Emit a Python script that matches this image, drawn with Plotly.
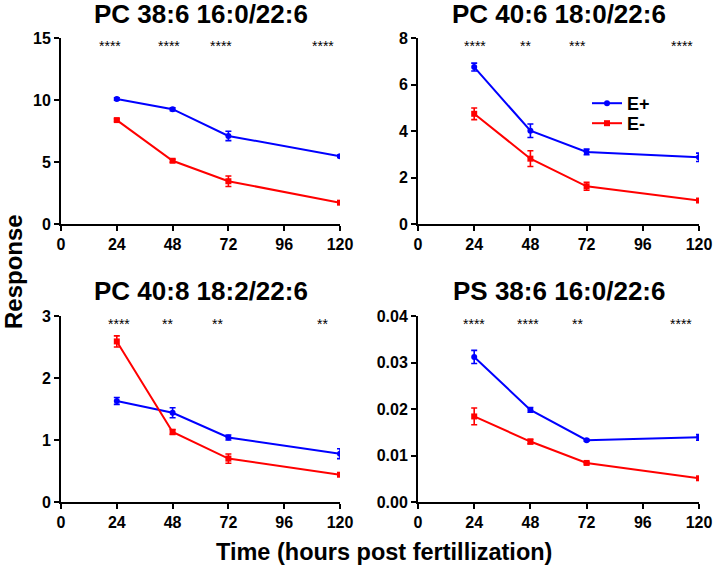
import plotly.graph_objects as go

hours = [24, 48, 72, 120]
titles = ["PC 38:6 16:0/22:6", "PC 40:6 18:0/22:6", "PC 40:8 18:2/22:6", "PS 38:6 16:0/22:6"]

ep_vals = [
    [10.08, 9.26, 7.1, 5.47],
    [6.75, 4.01, 3.10, 2.87],
    [1.63, 1.44, 1.04, 0.78],
    [0.0312, 0.0198, 0.0133, 0.0139],
]
ep_err = [
    [0.1, 0.12, 0.38, 0.1],
    [0.17, 0.29, 0.12, 0.18],
    [0.055, 0.08, 0.04, 0.08],
    [0.0014, 0.0005, 0.0002, 0.0006],
]
em_vals = [
    [8.38, 5.1, 3.45, 1.72],
    [4.74, 2.81, 1.62, 1.01],
    [2.59, 1.13, 0.70, 0.44],
    [0.0184, 0.0130, 0.0084, 0.0051],
]
em_err = [
    [0.1, 0.12, 0.42, 0.08],
    [0.25, 0.34, 0.17, 0.04],
    [0.09, 0.04, 0.075, 0.02],
    [0.0018, 0.0005, 0.0002, 0.0002],
]
y_max = [15, 8, 3, 0.04]
y_dtick = [5, 2, 1, 0.01]
y_fmt = ["", "", "", ".2f"]
stars = [
    ["****", "****", "****", "****"],
    ["****", "**", "***", "****"],
    ["****", "**", "**", "**"],
    ["****", "****", "**", "****"],
]
star_x = [
    [21, 46.5, 69, 112.7],
    [24.3, 45.7, 67.9, 112.7],
    [24.8, 45.6, 67.5, 112.3],
    [23.9, 47, 67.9, 112.3],
]
x_ticks = [0, 24, 48, 72, 96, 120]

FONT = "Liberation Sans, Arial, sans-serif"
BLUE = "#0000ff"
RED = "#ff0000"

W, H = 714, 572


def px(x):
    return x / W


def py(y):
    return 1 - y / H


x_px = [[61, 340], [418, 699], [61, 340], [418, 699]]
y_px = [[38, 224], [38, 224], [316, 502], [316, 502]]
title_y_px = [14, 14, 291, 291]

fig = go.Figure()
layout = {}
annotations = []
for i in range(4):
    ax = "" if i == 0 else str(i + 1)
    xa, ya = "x" + ax, "y" + ax
    fig.add_trace(go.Scatter(
        x=hours, y=ep_vals[i], xaxis=xa, yaxis=ya, mode="lines+markers",
        name="E+", showlegend=(i == 1), legend="legend",
        line=dict(color=BLUE, width=2), marker=dict(symbol="circle", size=6, color=BLUE),
        error_y=dict(type="data", array=ep_err[i], color=BLUE, thickness=1.6, width=3),
    ))
    fig.add_trace(go.Scatter(
        x=hours, y=em_vals[i], xaxis=xa, yaxis=ya, mode="lines+markers",
        name="E-", showlegend=(i == 1), legend="legend2",
        line=dict(color=RED, width=2), marker=dict(symbol="square", size=6, color=RED),
        error_y=dict(type="data", array=em_err[i], color=RED, thickness=1.6, width=3),
    ))
    common = dict(showline=True, linecolor="black", linewidth=2, ticks="outside",
                  ticklen=5, tickwidth=2, tickcolor="black", showgrid=False, zeroline=False,
                  automargin=False,
                  tickfont=dict(family=FONT, size=16, color="black", weight="bold"))
    xd = [px(x_px[i][0]), px(x_px[i][1])]
    yd = [py(y_px[i][1]), py(y_px[i][0])]
    layout["xaxis" + ax] = dict(domain=xd, range=[0, 120], tickvals=x_ticks,
                                anchor=ya, **common)
    layout["yaxis" + ax] = dict(domain=yd, range=[0, y_max[i]], dtick=y_dtick[i],
                                tickformat=y_fmt[i], anchor=xa, **common)
    for sx, s in zip(star_x[i], stars[i]):
        annotations.append(dict(x=sx, y=y_max[i] * 0.955, xref=xa, yref=ya, text=s,
                                xanchor="center", yanchor="middle",
                                showarrow=False, font=dict(family=FONT, size=14, color="black")))
    xc = (xd[0] + xd[1]) / 2
    annotations.append(dict(x=xc, y=py(title_y_px[i]), xref="paper", yref="paper",
                            text=titles[i], showarrow=False, xanchor="center", yanchor="middle",
                            font=dict(family=FONT, size=26, color="black", weight="bold")))

annotations.append(dict(x=px(13), y=py(272), xref="paper", yref="paper", text="Response",
                        textangle=-90, showarrow=False, xanchor="center", yanchor="middle",
                        font=dict(family=FONT, size=24, color="black", weight="bold")))
annotations.append(dict(x=px(384), y=py(552), xref="paper", yref="paper",
                        text="Time (hours post fertillization)", showarrow=False,
                        xanchor="center", yanchor="middle",
                        font=dict(family=FONT, size=23.5, color="black", weight="bold")))

leg_common = dict(xanchor="left", yanchor="top", bgcolor="rgba(0,0,0,0)",
                  font=dict(family=FONT, size=18, color="black", weight="bold"),
                  itemwidth=30)
fig.update_layout(
    width=W, height=H, margin=dict(l=0, r=0, t=0, b=0, pad=0, autoexpand=False),
    plot_bgcolor="white", paper_bgcolor="white",
    annotations=annotations,
    legend=dict(x=px(587), y=py(85), **leg_common),
    legend2=dict(x=px(587), y=py(105), **leg_common),
    **layout,
)
fig.write_html(
    "out.html",
    config={"displayModeBar": False},
    post_script="document.body.style.margin='0';document.body.style.overflow='hidden';",
)
